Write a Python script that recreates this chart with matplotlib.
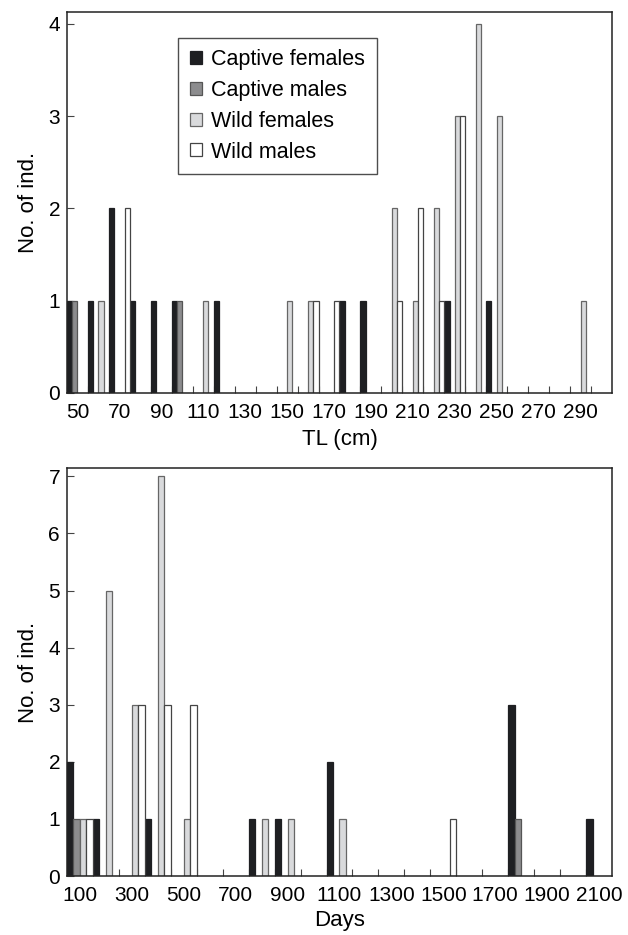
import numpy as np
import matplotlib
matplotlib.use('Agg')
import matplotlib.pyplot as plt
from matplotlib.patches import Patch

plt.rcParams['font.family'] = ['Liberation Sans', 'DejaVu Sans']

# TL (cm) bins, bin width 10
tl_bins = list(range(50, 310, 10))
tl_cap_f = [1, 1, 2, 1, 1, 1, 0, 1, 0, 0, 0, 0, 0, 1, 1, 0, 0, 0, 1, 0, 1, 0, 0, 0, 0, 0]
tl_cap_m = [1, 0, 0, 0, 0, 1, 0, 0, 0, 0, 0, 0, 0, 0, 0, 0, 0, 0, 0, 0, 0, 0, 0, 0, 0, 0]
tl_wild_f = [0, 1, 0, 0, 0, 0, 1, 0, 0, 0, 1, 1, 0, 0, 0, 2, 1, 2, 3, 4, 3, 0, 0, 0, 1, 0]
tl_wild_m = [0, 0, 2, 0, 0, 0, 0, 0, 0, 0, 0, 1, 1, 0, 0, 1, 2, 1, 3, 0, 0, 0, 0, 0, 0, 0]
tl_labels = ['50', '70', '90', '110', '130', '150', '170', '190', '210', '230', '250', '270', '290']

# Days bins, bin width 100
day_bins = list(range(100, 2200, 100))
day_cap_f = [2, 1, 0, 1, 0, 0, 0, 1, 1, 0, 2, 0, 0, 0, 0, 0, 0, 3, 0, 0, 1]
day_cap_m = [1, 0, 0, 0, 0, 0, 0, 0, 0, 0, 0, 0, 0, 0, 0, 0, 0, 1, 0, 0, 0]
day_wild_f = [1, 5, 3, 7, 1, 0, 0, 1, 1, 0, 1, 0, 0, 0, 0, 0, 0, 0, 0, 0, 0]
day_wild_m = [1, 0, 3, 3, 3, 0, 0, 0, 0, 0, 0, 0, 0, 0, 1, 0, 0, 0, 0, 0, 0]
day_labels = ['100', '300', '500', '700', '900', '1100', '1300', '1500', '1700', '1900', '2100']

names = ['Captive females', 'Captive males', 'Wild females', 'Wild males']
colors = ['#1e1f22', '#8c8c8e', '#d9dadc', '#ffffff']
edges = ['#1e1f22', '#555555', '#666666', '#444444']


def grouped(ax, bins, series, width):
    bins = np.array(bins)
    w = width / 4
    for i, vals in enumerate(series):
        vals = np.array(vals)
        m = vals > 0
        ax.bar(bins[m] - width / 2 + i * w, vals[m], width=w, align='edge',
               color=colors[i], edgecolor=edges[i], linewidth=0.9, zorder=2)


fig = plt.figure(figsize=(6.28, 9.35), dpi=100)
ax1 = fig.add_axes([0.1067, 0.5797, 0.8678, 0.4078])
ax2 = fig.add_axes([0.1067, 0.0631, 0.8678, 0.4360])

grouped(ax1, tl_bins, [tl_cap_f, tl_cap_m, tl_wild_f, tl_wild_m], 10)
grouped(ax2, day_bins, [day_cap_f, day_cap_m, day_wild_f, day_wild_m], 100)

ax1.set_xlim(45, 305)
ax1.set_ylim(0, 4.13)
ax1.set_xticks(tl_bins[::2])
ax1.set_xticklabels(tl_labels)
ax1.set_xticks(np.array(tl_bins) - 5, minor=True)
ax1.set_yticks([0, 1, 2, 3, 4])
ax1.set_xlabel('TL (cm)', fontsize=16, labelpad=5)
ax1.set_ylabel('No. of ind.', fontsize=16, labelpad=7)

ax2.set_xlim(50, 2150)
ax2.set_ylim(0, 7.14)
ax2.set_xticks(day_bins[::2])
ax2.set_xticklabels(day_labels)
ax2.set_xticks(np.array(day_bins) - 50, minor=True)
ax2.set_yticks(range(8))
ax2.set_xlabel('Days', fontsize=16, labelpad=4)
ax2.set_ylabel('No. of ind.', fontsize=16, labelpad=7)

for ax in (ax1, ax2):
    ax.set_axisbelow(True)
    ax.tick_params(axis='x', which='major', length=0, labelsize=15, pad=7)
    ax.tick_params(axis='x', which='minor', direction='in', length=5, width=0.8, color='#444444')
    ax.tick_params(axis='y', direction='in', length=5, width=0.8, labelsize=15, color='#444444', pad=5)
    for s in ax.spines.values():
        s.set_linewidth(1.1)
        s.set_color('#222222')

handles = [Patch(facecolor=c, edgecolor=e, linewidth=0.9) for c, e in zip(colors, edges)]
leg = ax1.legend(handles, names, loc='upper left', bbox_to_anchor=(0.204, 0.932),
                 fontsize=15.5, frameon=True, fancybox=False, handlelength=0.55,
                 handleheight=0.55, handletextpad=0.42, labelspacing=0.45,
                 borderpad=0.55, borderaxespad=0)
leg.get_frame().set_edgecolor('#222222')
leg.get_frame().set_linewidth(1.0)

fig.savefig('out.png', dpi=100)
